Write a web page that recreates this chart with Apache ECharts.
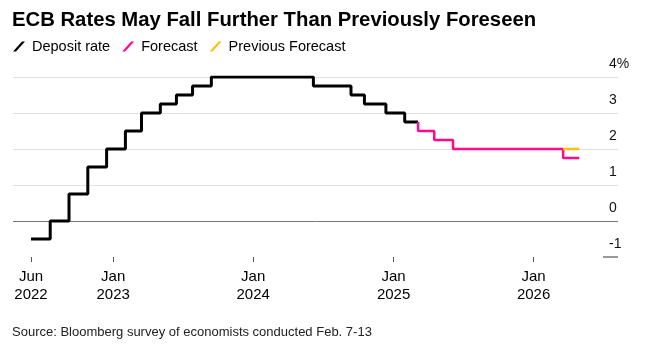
<!DOCTYPE html>
<html>
<head>
<meta charset="utf-8">
<script src="https://cdn.jsdelivr.net/npm/echarts@6/dist/echarts.min.js"></script>
<style>
html,body{margin:0;padding:0;background:#fff;}
#chart{width:648px;height:351px;}
</style>
</head>
<body>
<div id="chart"></div>
<script>
// ---- data ----
const depositDates = ['2022-06-01','2022-07-21','2022-09-08','2022-10-27','2022-12-15','2023-02-02','2023-03-16','2023-05-04','2023-06-15','2023-07-27','2023-09-14','2024-06-06','2024-09-12','2024-10-17','2024-12-12','2025-01-30','2025-03-06'];
const depositValues = [-0.5, 0, 0.75, 1.5, 2.0, 2.5, 3.0, 3.25, 3.5, 3.75, 4.0, 3.75, 3.5, 3.25, 3.0, 2.75, 2.75];
const forecastDates = ['2025-03-06','2025-03-06','2025-04-17','2025-06-05','2026-03-19','2026-04-30'];
const forecastValues = [2.75, 2.5, 2.25, 2.0, 1.75, 1.75];
const prevForecastDates = ['2026-03-19','2026-04-30'];
const prevForecastValues = [2.0, 2.0];
const xTickDates = ['2022-06-01','2023-01-01','2024-01-01','2025-01-01','2026-01-01'];
const xTickLabels = ['Jun\n2022','Jan\n2023','Jan\n2024','Jan\n2025','Jan\n2026'];
const yTickValues = [-1, 0, 1, 2, 3, 4];
const yTickLabels = ['-1', '0', '1', '2', '3', '4%'];
const seriesNames = ['Deposit rate', 'Forecast', 'Previous Forecast'];
const titleText = 'ECB Rates May Fall Further Than Previously Foreseen';
const sourceText = 'Source: Bloomberg survey of economists conducted Feb. 7-13';

// ---- helpers ----
const t = s => +new Date(s + 'T00:00:00');
const zip = (ds, vs) => ds.map((d, i) => [t(d), vs[i]]);
const xTickTs = xTickDates.map(t);
const FONT = "'Liberation Sans', Arial, sans-serif";
const COLORS = ['#000000', '#ff0a8b', '#fbc20f'];
const slash = 'path://M0,10 L9,0 L12,0 L3,10 Z';

const chart = echarts.init(document.getElementById('chart'));
chart.setOption({
  animation: false,
  backgroundColor: '#fff',
  textStyle: { fontFamily: FONT },
  title: [
    { text: titleText, left: 12, top: 10, padding: 0,
      textStyle: { fontFamily: FONT, fontSize: 20.3, fontWeight: 'bold', color: '#000' } },
    { text: sourceText, left: 12, top: 326, padding: 0,
      textStyle: { fontFamily: FONT, fontSize: 13, fontWeight: 'normal', color: '#222' } }
  ],
  legend: {
    left: 13, top: 39, padding: 0, itemWidth: 12, itemHeight: 10, itemGap: 12,
    data: seriesNames.map((n, i) => ({ name: n, icon: slash, itemStyle: { color: COLORS[i] } })),
    textStyle: { fontFamily: FONT, fontSize: 14.5, color: '#000', padding: [0, 0, 0, 2] },
    selectedMode: false
  },
  grid: { left: 13, right: 30, top: 77, bottom: 94, containLabel: false },
  xAxis: {
    type: 'value',
    min: t('2022-04-15'), max: t('2026-08-09'),
    axisLine: { show: false, onZero: false },
    splitLine: { show: false },
    axisTick: { show: true, customValues: xTickTs, length: 5, lineStyle: { color: '#555', width: 1 } },
    axisLabel: {
      customValues: xTickTs, hideOverlap: false, margin: 11, showMinLabel: true, showMaxLabel: true,
      fontFamily: FONT, fontSize: 15, lineHeight: 18, color: '#000',
      formatter: v => {
        let best = 0;
        xTickTs.forEach((x, i) => { if (Math.abs(x - v) < Math.abs(xTickTs[best] - v)) best = i; });
        return xTickLabels[best];
      }
    }
  },
  yAxis: {
    type: 'value', position: 'right', min: -1, max: 4, interval: 1,
    axisLine: { show: false },
    axisTick: { show: false },
    axisLabel: {
      inside: true, align: 'left', margin: 9, verticalAlign: 'bottom', padding: [0, 0, 6, 0],
      fontFamily: FONT, fontSize: 14, color: '#111',
      formatter: v => { const i = yTickValues.indexOf(v); return i >= 0 ? yTickLabels[i] : ''; }
    },
    splitLine: { show: true, lineStyle: { color: ['rgba(0,0,0,0)', '#777', '#e0e0e0', '#e0e0e0', '#e0e0e0', '#e0e0e0'], width: 1 } }
  },
  series: [
    { name: seriesNames[0], type: 'line', step: 'end', symbol: 'none', data: zip(depositDates, depositValues),
      lineStyle: { color: COLORS[0], width: 3 }, itemStyle: { color: COLORS[0] }, z: 3 },
    { name: seriesNames[1], type: 'line', step: 'end', symbol: 'none', data: zip(forecastDates, forecastValues),
      lineStyle: { color: COLORS[1], width: 2.5 }, itemStyle: { color: COLORS[1] }, z: 3 },
    { name: seriesNames[2], type: 'line', step: 'end', symbol: 'none', data: zip(prevForecastDates, prevForecastValues),
      lineStyle: { color: COLORS[2], width: 2.5 }, itemStyle: { color: COLORS[2] }, z: 4 }
  ]
});

// short tick marking the -1 level at the right edge of the plot
const pRight = chart.convertToPixel({ gridIndex: 0 }, [t('2026-08-09'), yTickValues[0]]);
chart.setOption({
  graphic: [{
    type: 'line', silent: true,
    shape: { x1: pRight[0] - 15, y1: pRight[1], x2: pRight[0], y2: pRight[1] },
    style: { stroke: '#999', lineWidth: 2 }
  }]
});
</script>
</body>
</html>
